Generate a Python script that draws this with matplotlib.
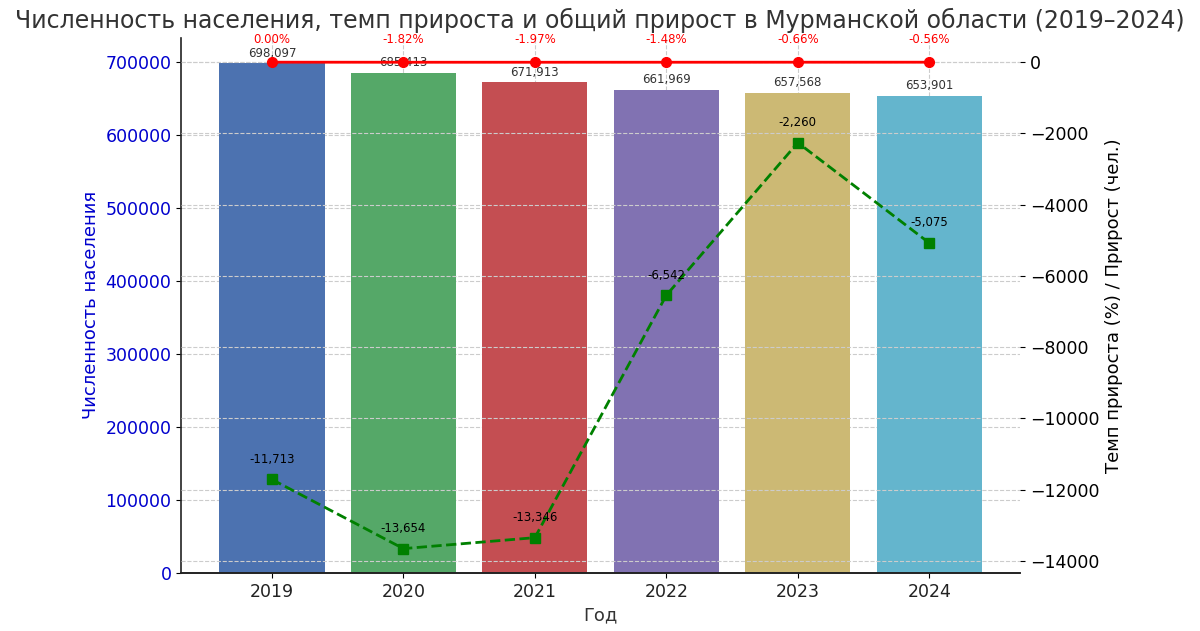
import matplotlib
matplotlib.use("Agg")
import matplotlib.pyplot as plt
import numpy as np

plt.rcParams['font.family'] = ['DejaVu Sans']

years = ["2019", "2020", "2021", "2022", "2023", "2024"]
population = [698097, 685413, 671913, 661969, 657568, 653901]
growth_rate = [0.00, -1.82, -1.97, -1.48, -0.66, -0.56]
total_growth = [-11713, -13654, -13346, -6542, -2260, -5075]
bar_colors = ["#4C72B0", "#55A868", "#C44E52", "#8172B2", "#CCB974", "#64B5CD"]

fig = plt.figure(figsize=(12, 6.31), dpi=100)
ax1 = fig.add_axes([0.151, 0.092, 0.699, 0.848])
x = np.arange(len(years))

ax1.bar(x, population, width=0.8, color=bar_colors, zorder=2)
ax1.set_ylim(0, max(population) * 1.05)
ax1.set_xticks(x)
ax1.set_xticklabels(years, fontsize=12.5, color='#222222')
ax1.set_xlabel("Год", fontsize=13, color='#333333')
ax1.set_ylabel("Численность населения", fontsize=13, color='mediumblue')
ax1.tick_params(axis='y', labelcolor='mediumblue', labelsize=12.5)
ax1.grid(True, linestyle='--', color='#cccccc', linewidth=0.8)
ax1.set_axisbelow(True)
for s in ['top', 'right']:
    ax1.spines[s].set_visible(False)
for s in ['left', 'bottom']:
    ax1.spines[s].set_color('#222222')
    ax1.spines[s].set_linewidth(1.2)

for xi, v in zip(x, population):
    ax1.text(xi, v + 5000, f"{v:,}", ha='center', va='bottom', fontsize=8.5, color='#333333')

ax2 = ax1.twinx()
ax2.plot(x, growth_rate, color='red', marker='o', linewidth=2, markersize=7, zorder=3)
ax2.plot(x, total_growth, color='green', marker='s', linestyle='--', linewidth=2, markersize=7, zorder=3)
ax2.set_ylabel("Темп прироста (%) / Прирост (чел.)", fontsize=13, color='black')
ax2.tick_params(axis='y', labelsize=12.5)
ax2.grid(True, linestyle='--', color='#cccccc', linewidth=0.8)
for s in ['top', 'right', 'left']:
    ax2.spines[s].set_visible(False)
ax2.spines['bottom'].set_color('#222222')
ax2.spines['bottom'].set_linewidth(1.2)

for xi, v in zip(x, growth_rate):
    ax2.annotate(f"{v:.2f}%", (xi, v), textcoords="offset points", xytext=(0, 14),
                 ha='center', fontsize=8.5, color='red')
for xi, v in zip(x, total_growth):
    ax2.annotate(f"{v:,}", (xi, v), textcoords="offset points", xytext=(0, 12),
                 ha='center', fontsize=8.5, color='black')

fig.suptitle("Численность населения, темп прироста и общий прирост в Мурманской области (2019–2024)",
             fontsize=17, color='#333333', x=0.5, y=0.988)

fig.savefig("out.png", dpi=100)
